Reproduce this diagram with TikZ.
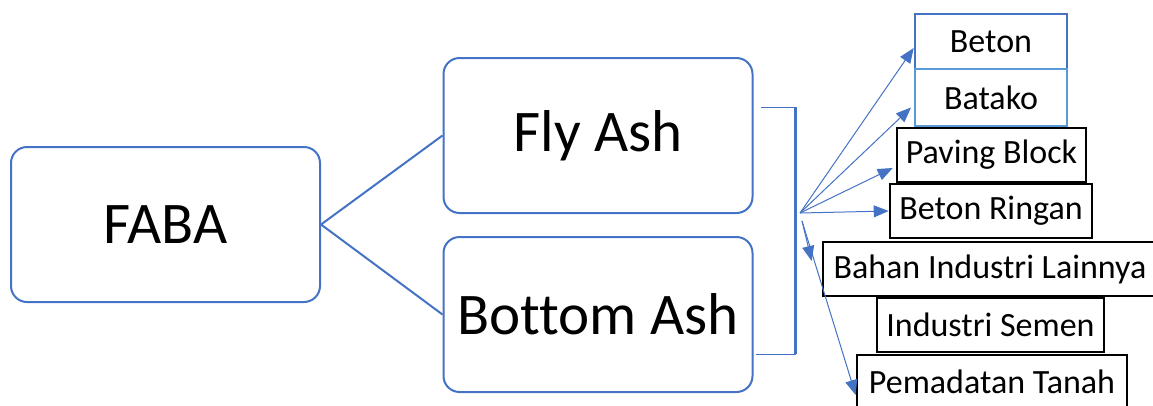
\documentclass[tikz,border=0pt]{standalone}
\usepackage{fontspec}
\setmainfont{Carlito}[Ligatures=NoCommon]
\usepackage{xcolor}
\usepackage{tikz}
\usetikzlibrary{shapes, arrows.meta, positioning}

\definecolor{faba}{HTML}{4472C4}
\definecolor{fabalight}{HTML}{5B9BD5}

\begin{document}
\begin{tikzpicture}[x=1pt, y=-1pt]
        % Styles
        \tikzstyle{main} = [draw=faba, line width=2pt, rounded corners=16pt, inner sep=0pt, minimum width=309pt, minimum height=155pt, font=\fontsize{59}{64}\selectfont]
        \tikzstyle{use} = [draw=black, line width=2.6pt, inner sep=0pt, minimum height=54pt, font=\fontsize{34}{38}\selectfont]
        \tikzstyle{link} = [draw=faba, line width=2pt]
        \tikzstyle{arrow} = [draw=faba, line width=1pt, -{Triangle[length=15pt, width=12pt]}]

        \useasboundingbox (0,0) rectangle (1153,405);

        % Nodes
        \node [main] (faba) at (165.5,224.5) {FABA};
        \node [main] (fly) at (598,135.5) {Fly Ash};
        \node [main] (bottom) at (598,314.5) {Bottom Ash};

        \node [use, draw=faba, minimum width=152pt, minimum height=55pt] (beton) at (991,41.5) {Beton};
        \node [use, draw=fabalight, line width=2pt, minimum width=152pt, minimum height=57pt] (batako) at (991,97.5) {Batako};
        \node [use, minimum width=189pt] (paving) at (991.5,155) {Paving Block};
        \node [use, minimum width=202pt] (ringan) at (991,211) {Beton Ringan};
        \node [use, minimum width=334pt] (bahan) at (990,269) {Bahan Industri Lainnya};
        \node [use, minimum width=227pt] (semen) at (990.5,325) {Industri Semen};
        \node [use, minimum width=270pt] (tanah) at (992,382) {Pemadatan Tanah};

        \coordinate (hub) at (800,213);
        \coordinate (hubdown) at (802,221);

        % Lines
        \draw [link] (faba.east) -- (fly.west);
        \draw [link] (faba.east) -- (bottom.west);
        \draw [draw=faba, line width=1.3pt] ([xshift=7pt,yshift=28pt]fly.east) -| (795,214);
        \draw [draw=faba, line width=1.3pt] ([xshift=2pt,yshift=-40pt]bottom.east) -| (795,214);
        \draw [draw=faba, line width=3pt] (795,107) -- (795,354);

        % Arrows
        \draw [arrow] (hub) -- ([yshift=-6.5pt]beton.west);
        \draw [arrow] (hub) -- ([xshift=-3pt, yshift=-10pt]batako.west);
        \draw [arrow] (hub) -- ([xshift=-3pt, yshift=-13pt]paving.west);
        \draw [arrow] (hub) -- (ringan.west);
        \draw [arrow] (hubdown) -- ([xshift=-10pt, yshift=8pt]bahan.west);
        \draw [arrow] (hubdown) -- ([yshift=-13pt]tanah.west);
\end{tikzpicture}
\end{document}
